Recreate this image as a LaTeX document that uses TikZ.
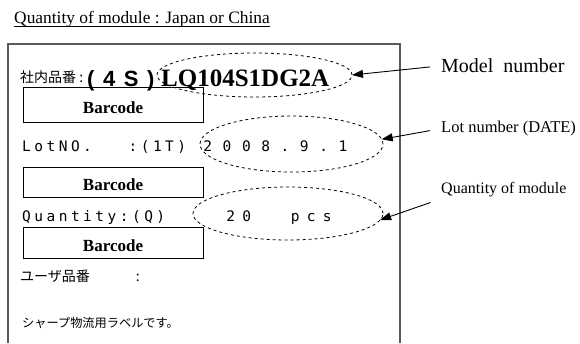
\documentclass[tikz,border=0pt]{standalone}
\usepackage{fontspec}
\setmainfont{Liberation Serif}
\newfontfamily\jpfont{Noto Sans CJK JP}
\newfontfamily\lotfont[LetterSpace=24]{DejaVu Sans Mono}
\newfontfamily\datefont[LetterSpace=73]{DejaVu Sans Mono}
\newfontfamily\qtyfont[LetterSpace=50]{DejaVu Sans Mono}
\newfontfamily\idfont[LetterSpace=11]{Liberation Sans}
\usetikzlibrary{shapes.geometric, arrows.meta, positioning}
\definecolor{framegray}{RGB}{90, 90, 90}
\newcommand{\setsz}[1]{\fontsize{#1}{#1}\selectfont}

\tikzset{
  labeltext/.style={anchor=west, inner sep=2pt, font=\setsz{16}},
  ringmark/.style={ellipse, draw, dashed, line width=0.8pt, inner sep=0pt, outer sep=0pt},
  barbox/.style={draw, line width=1pt, minimum width=180pt, inner sep=0pt,
    text height=17pt, text depth=0pt, font=\bfseries\setsz{17}},
  rowtext/.style={anchor=base west, inner sep=0pt},
  pointer/.style={-{Triangle[length=11pt, width=8pt]}, line width=0.9pt, shorten <=9pt},
}

\begin{document}
\begin{tikzpicture}[x=1pt, y=-1pt]
  \useasboundingbox (0,0) rectangle (580,343);

  % Title
  \node[rowtext, font=\setsz{17.4}] (title) at (14,23) {Quantity of module : Japan or China};
  \draw[line width=0.7pt] ([yshift=-3pt]title.base west) -- ([yshift=-3pt]title.base east);

  % Label frame, open at the bottom
  \draw[framegray, line width=1.3pt] (8,343) -- (8,44) -- (400,44) -- (400,343);

  % Row 1: model number
  \node[rowtext, font=\jpfont\setsz{14}] (codetag) at (20,82) {社内品番 :};
  \node[rowtext, font=\idfont\bfseries\setsz{22}] (idtag) at (87,86) {( 4 S )};
  \node[rowtext, font=\bfseries\setsz{25}] (partno) at (161,86) {LQ104S1DG2A};
  \node[ringmark, minimum width=195pt, minimum height=44pt] (ringA) at (254.5,75) {};
  \node[barbox, minimum height=35pt] (barA) at (113,104.5) {Barcode};

  % Row 2: lot number
  \node[rowtext, font=\lotfont\setsz{14.5}] (lotno) at (22,151) {LotNO.\ \ \ :(1T) \hspace{5pt}{\datefont 2008.9.1}};
  \node[ringmark, minimum width=183pt, minimum height=56pt] (ringB) at (291.5,144) {};
  \node[barbox, minimum height=30pt] (barB) at (113,182) {Barcode};

  % Row 3: quantity
  \node[rowtext, font=\lotfont\setsz{14.5}] (qty) at (22,221) {Quantity:(Q)\ \ \ \ \ {\qtyfont 20\ \ \hspace{8pt}pcs}};
  \node[ringmark, minimum width=190pt, minimum height=53pt] (ringC) at (288,213.5) {};
  \node[barbox, minimum height=31pt] (barC) at (113,242.5) {Barcode};

  % User part number and footer line
  \node[rowtext, font=\jpfont\setsz{14}] (usertag) at (20,281) {ユーザ品番\hspace{46pt}:};
  \node[rowtext, font=\jpfont\setsz{12.2}] (footer) at (22,327) {シャープ物流用ラベルです。};

  % Callouts
  \node[labeltext, font=\setsz{20}] (modelLbl) at (439,66) {Model\ \ number};
  \node[labeltext, font=\setsz{16.5}] (lotLbl) at (439,129) {Lot number (DATE)};
  \node[labeltext] (qtyLbl) at (439,190) {Quantity of module};

  \draw[pointer] (modelLbl.west) -- (ringA.east);
  \draw[pointer] (lotLbl.west) -- (ringB.3);
  \draw[pointer] (qtyLbl.south west) -- (ringC.-4);
\end{tikzpicture}
\end{document}
